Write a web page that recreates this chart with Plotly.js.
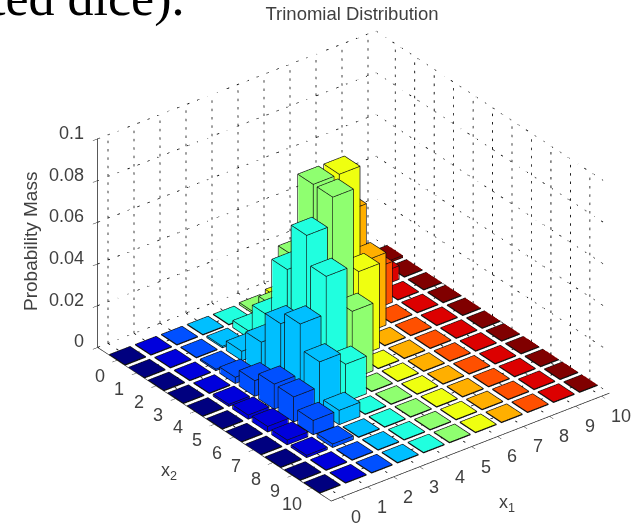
<!DOCTYPE html>
<html><head><meta charset="utf-8">
<script src="https://cdn.plot.ly/plotly-3.0.1.min.js"></script>
<style>html,body{margin:0;padding:0;background:#fff}#c{width:638px;height:523px}</style>
</head><body><div id="c"></div>
<script>
// rows: x2 = 0..10, columns: x1 = 0..10
const x1Values=[0,1,2,3,4,5,6,7,8,9,10];
const x2Values=[0,1,2,3,4,5,6,7,8,9,10];
const x2Row0 =[0,0,0,0.00005,0.00028,0.00101,0.00253,0.00434,0.00488,0.00326,0.00098];
const x2Row1 =[0,0.00001,0.00011,0.00075,0.00338,0.01013,0.02025,0.02604,0.01953,0.00651,0];
const x2Row2 =[0,0.00007,0.00075,0.0045,0.01688,0.04051,0.06076,0.05208,0.01953,0,0];
const x2Row3 =[0.00002,0.00033,0.003,0.015,0.045,0.081,0.081,0.03472,0,0,0];
const x2Row4 =[0.00006,0.001,0.0075,0.03,0.0675,0.081,0.0405,0,0,0,0];
const x2Row5 =[0.00013,0.002,0.012,0.036,0.054,0.0324,0,0,0,0,0];
const x2Row6 =[0.00022,0.00267,0.012,0.024,0.018,0,0,0,0,0,0];
const x2Row7 =[0.00025,0.00229,0.00686,0.00686,0,0,0,0,0,0,0];
const x2Row8 =[0.00019,0.00114,0.00171,0,0,0,0,0,0,0,0];
const x2Row9 =[0.00009,0.00025,0,0,0,0,0,0,0,0,0];
const x2Row10=[0.00002,0,0,0,0,0,0,0,0,0,0];
const rows=[x2Row0,x2Row1,x2Row2,x2Row3,x2Row4,x2Row5,x2Row6,x2Row7,x2Row8,x2Row9,x2Row10];
const zTicks=[0,0.02,0.04,0.06,0.08,0.1];
const zTickText=['0','0.02','0.04','0.06','0.08','0.1'];
const columnColors=['#00007f','#0000dc','#0050ff','#00bfff','#20ffdf','#8fff70','#efff10','#ffaf00','#ff5000','#dc0000','#800000'];

const W=0.4, FLAT=0.0003, INSET=0.012, ZINSET=0.00004;
const traces=[];
const ex=[],ey=[],ez=[];
function seg(xs,ys,zs,ax,ay,az){xs.forEach((v,i)=>{ax.push(v);ay.push(ys[i]);az.push(zs[i]);});ax.push(null);ay.push(null);az.push(null);}
x1Values.forEach((a,ci)=>{
  const X=[],Y=[],Z=[],I=[],J=[],K=[];
  x2Values.forEach((b,ri)=>{
    const h=Math.max(rows[ri][ci],FLAT);
    const n=X.length, w=W-INSET;
    [[-1,-1,0],[1,-1,0],[1,1,0],[-1,1,0],[-1,-1,1],[1,-1,1],[1,1,1],[-1,1,1]].forEach(p=>{
      X.push(a+p[0]*w);Y.push(b+p[1]*w);Z.push(p[2]?h-ZINSET:0);
    });
    [[0,1,2],[0,2,3],[4,5,6],[4,6,7],[0,1,5],[0,5,4],[1,2,6],[1,6,5],[2,3,7],[2,7,6],[3,0,4],[3,4,7]].forEach(t=>{
      I.push(n+t[0]);J.push(n+t[1]);K.push(n+t[2]);
    });
    const l=a-W,r=a+W,f=b-W,g=b+W;
    seg([l,r,r,l,l],[f,f,g,g,f],[h,h,h,h,h],ex,ey,ez);
    seg([l,r,r,l,l],[f,f,g,g,f],[0,0,0,0,0],ex,ey,ez);
    [[l,f],[r,f],[r,g],[l,g]].forEach(c=>seg([c[0],c[0]],[c[1],c[1]],[0,h],ex,ey,ez));
  });
  traces.push({type:'mesh3d',x:X,y:Y,z:Z,i:I,j:J,k:K,color:columnColors[ci],flatshading:true,
    lighting:{ambient:1,diffuse:0,specular:0,roughness:1,fresnel:0},hoverinfo:'skip',showscale:false});
});
traces.push({type:'scatter3d',mode:'lines',x:ex,y:ey,z:ez,line:{color:'#101010',width:1.4},hoverinfo:'skip',showlegend:false});
// dotted grid: each grid line is a row of short strokes
const gx=[],gy=[],gz=[];
const x1Lo=-0.4,x1Hi=10.3,x2Lo=-1,x2Hi=11,zLo=0,zHi=0.1;
function dotted(a,b,count,frac){
  for(let i=0;i<count;i++){
    const s=i/count, e=(i+frac)/count;
    seg([a[0]+(b[0]-a[0])*s,a[0]+(b[0]-a[0])*e],[a[1]+(b[1]-a[1])*s,a[1]+(b[1]-a[1])*e],[a[2]+(b[2]-a[2])*s,a[2]+(b[2]-a[2])*e],gx,gy,gz);
  }
}
x1Values.forEach(t=>{dotted([t,x2Lo,zLo],[t,x2Lo,zHi],25,0.3);dotted([t,x2Lo,zLo],[t,x2Hi,zLo],28,0.24);});
x2Values.forEach(t=>{dotted([x1Hi,t,zLo],[x1Hi,t,zHi],25,0.3);dotted([x1Lo,t,zLo],[x1Hi,t,zLo],28,0.24);});
zTicks.forEach(t=>{dotted([x1Lo,x2Lo,t],[x1Hi,x2Lo,t],28,0.24);dotted([x1Hi,x2Lo,t],[x1Hi,x2Hi,t],28,0.24);});
traces.push({type:'scatter3d',mode:'lines',x:gx,y:gy,z:gz,line:{color:'#000',width:1.6},hoverinfo:'skip',showlegend:false});

const axisBase={showgrid:false,zeroline:false,showline:true,linecolor:'#222',linewidth:1.5,showbackground:false,showspikes:false,
  ticks:'outside',ticklen:6,tickcolor:'#222',tickwidth:1,showticklabels:false,title:{text:''}};
const tickFont={family:'Liberation Sans',size:18,color:'#404040'};
const sceneNotes=[];
x1Values.forEach(t=>sceneNotes.push({x:t,y:x2Hi,z:0,text:String(t),showarrow:false,xanchor:'center',yanchor:'middle',xshift:t===10?19:14,yshift:-20,font:tickFont}));
x2Values.forEach(t=>sceneNotes.push({x:x1Lo,y:t,z:0,text:String(t),showarrow:false,xanchor:'center',yanchor:'middle',xshift:t===10?-20:-17,yshift:-16,font:tickFont}));
zTicks.forEach((t,i)=>sceneNotes.push({x:x1Lo,y:x2Lo,z:t,text:zTickText[i],showarrow:false,xanchor:'right',yanchor:'middle',xshift:-12,yshift:6,font:tickFont}));
const layout={width:638,height:523,paper_bgcolor:'#fff',showlegend:false,hovermode:false,
  margin:{l:0,r:0,t:0,b:0},
  title:{text:'Trinomial Distribution',font:{family:'Liberation Sans',size:18.5,color:'#404040'},x:352/638,xanchor:'center',y:1-14/523,yanchor:'middle'},
  scene:{domain:{x:[0.108,1],y:[0.002,0.981]},annotations:sceneNotes,
    aspectmode:'manual',aspectratio:{x:1.37,y:1.498,z:0.944},
    camera:{projection:{type:'orthographic'},eye:{x:-0.5256,y:-0.6844,z:0.505},center:{x:0,y:0,z:0},up:{x:0,y:0,z:1}},
    xaxis:Object.assign({},axisBase,{range:[x1Lo,x1Hi],tickmode:'array',tickvals:x1Values,ticktext:x1Values.map(String)}),
    yaxis:Object.assign({},axisBase,{range:[x2Hi,x2Lo],tickmode:'array',tickvals:x2Values,ticktext:x2Values.map(String)}),
    zaxis:Object.assign({},axisBase,{range:[zLo,zHi],tickmode:'array',tickvals:zTicks,ticktext:zTickText})},
  annotations:[
    {text:'ted dice).',xref:'paper',yref:'paper',x:186/638,y:1-(-33)/523,xanchor:'right',yanchor:'top',showarrow:false,font:{family:'Liberation Serif',size:52,color:'#000'}},
    {text:'Probability Mass',xref:'paper',yref:'paper',x:30/638,y:1-242/523,textangle:-90,xanchor:'center',yanchor:'middle',showarrow:false,font:{family:'Liberation Sans',size:19,color:'#404040'}},
    {text:'x<sub>2</sub>',xref:'paper',yref:'paper',x:169/638,y:1-471/523,xanchor:'center',yanchor:'middle',showarrow:false,font:{family:'Liberation Sans',size:18,color:'#404040'}},
    {text:'x<sub>1</sub>',xref:'paper',yref:'paper',x:507/638,y:1-503/523,xanchor:'center',yanchor:'middle',showarrow:false,font:{family:'Liberation Sans',size:18,color:'#404040'}}
  ]};
Plotly.newPlot('c',traces,layout,{displayModeBar:false});
</script></body></html>
